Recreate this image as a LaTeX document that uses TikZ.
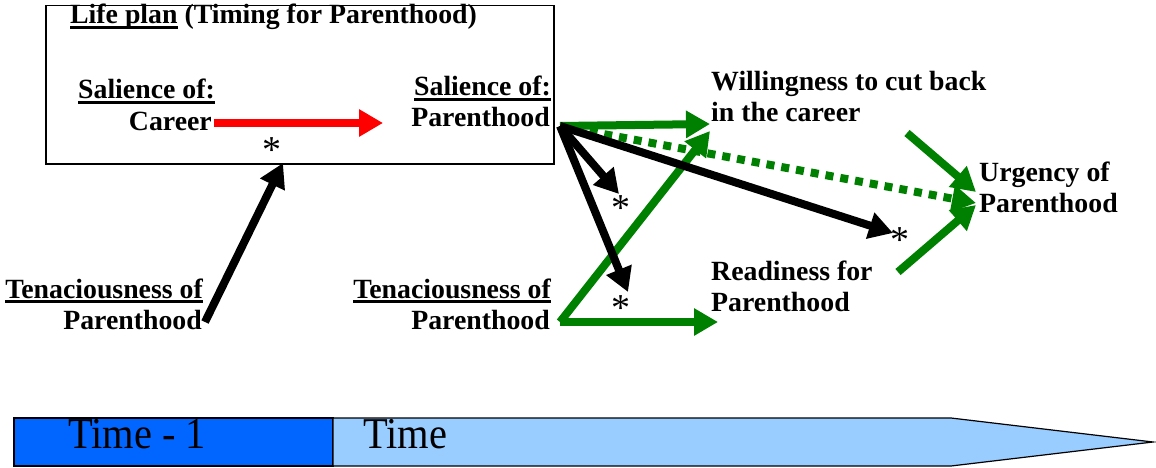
\documentclass[tikz,border=0pt]{standalone}
\usepackage{fontspec}
\setmainfont{Liberation Serif}
\usepackage{tikz}
\usetikzlibrary{arrows.meta}
\definecolor{pgreen}{HTML}{008000}
\definecolor{tdark}{HTML}{0066FF}
\definecolor{tlight}{HTML}{99CCFF}
\newcommand{\undl}[1]{\setbox0\hbox{#1}\rlap{\rule[-5pt]{\wd0}{2.6pt}}\box0\relax}
\newcommand{\lbl}{\fontsize{27.8}{31}\selectfont\bfseries}

\begin{document}
\begin{tikzpicture}[x=1pt,y=-1pt,
	txt/.style={inner sep=0pt,font=\lbl},
	fat/.style={line width=8pt,-{Triangle[length=24pt,width=26pt]}},
	star/.style={inner sep=0pt,font=\fontsize{38}{38}\selectfont}]
	\useasboundingbox (0,0) rectangle (1156,468);
	\node[draw,line width=1.5pt,anchor=north west,minimum width=508pt,minimum height=158pt,inner sep=0pt] (plan) at (45,5) {};
	\node[txt,anchor=base west] (title) at (70,24) {\undl{Life plan} (Timing for Parenthood)};
	\node[txt,anchor=base east] (salC) at (215,99) {\undl{Salience of:}};
	\node[txt,anchor=base east] (car) at (212,131) {Career};
	\node[txt,anchor=base east] (salPh) at (551,96) {\undl{Salience of:}};
	\node[txt,anchor=base east] (salP) at (550,127) {Parenthood};
	\node[txt,anchor=base east] (tenLh) at (203,298) {\undl{Tenaciousness of}};
	\node[txt,anchor=base east] (tenL) at (202,329) {Parenthood};
	\node[txt,anchor=base east] (tenMh) at (551,298) {\undl{Tenaciousness of}};
	\node[txt,anchor=base east] (tenM) at (550,329) {Parenthood};
	\node[txt,anchor=base west] (will) at (711,91) {Willingness to cut back};
	\node[txt,anchor=base west] (will2) at (711,122) {in the career};
	\node[txt,anchor=base west] (ready) at (711,280) {Readiness for};
	\node[txt,anchor=base west] (ready2) at (711,311) {Parenthood};
	\node[txt,anchor=base west] (urg) at (979,181) {Urgency of};
	\node[txt,anchor=base west] (urg2) at (979,212) {Parenthood};
	\node[star] (s1) at (272,150) {*};
	\node[star] (s2) at (621,208) {*};
	\node[star] (s3) at (621,308) {*};
	\node[star] (s4) at (900,240) {*};
	\coordinate (carOut) at (214,123);
	\coordinate (carIn) at (383,123);
	\coordinate (planIn) at (283,163);
	\coordinate (tenLOut) at (205,322);
	\coordinate (pOut) at (560,126);
	\coordinate (tOut) at (560,322);
	\coordinate (willIn) at (710,124);
	\coordinate (willIn2) at (710,131);
	\coordinate (readIn) at (718,322);
	\coordinate (s2In) at (619,194);
	\coordinate (s3In) at (628,292);
	\coordinate (s4In) at (893,233);
	\coordinate (urgIn) at (976,192);
	\coordinate (urgIn2) at (976,203);
	\coordinate (urgIn3) at (976,205);
	\coordinate (wA) at (907,133);
	\coordinate (rA) at (898,272);
	\draw[fat,red] (carOut) -- (carIn);
	\draw[fat] (tenLOut) -- (planIn);
	\draw[fat,pgreen] (pOut) -- (willIn);
	\draw[fat,pgreen,dash pattern=on 8pt off 7pt] (pOut) -- (urgIn2);
	\draw[fat,pgreen] (tOut) -- (willIn2);
	\draw[fat,pgreen] (tOut) -- (readIn);
	\draw[fat] (pOut) -- (s2In);
	\draw[fat] (pOut) -- (s3In);
	\draw[fat] (pOut) -- (s4In);
	\draw[fat,pgreen] (wA) -- (urgIn);
	\draw[fat,pgreen] (rA) -- (urgIn3);
	\draw[line width=1.2pt,fill=tdark] (14,418) rectangle (333,466);
	\draw[line width=1.2pt,fill=tlight] (333,418) -- (951,418) -- (1153,442) -- (951,466) -- (333,466) -- cycle;
	\node[inner sep=0pt,anchor=base west,font=\fontsize{44}{44}\selectfont] (t1) at (68,448) {\scalebox{0.92}[1]{Time - 1}};
	\node[inner sep=0pt,anchor=base west,font=\fontsize{44}{44}\selectfont] (t0) at (363,448) {\scalebox{0.92}[1]{Time}};
\end{tikzpicture}
\end{document}
